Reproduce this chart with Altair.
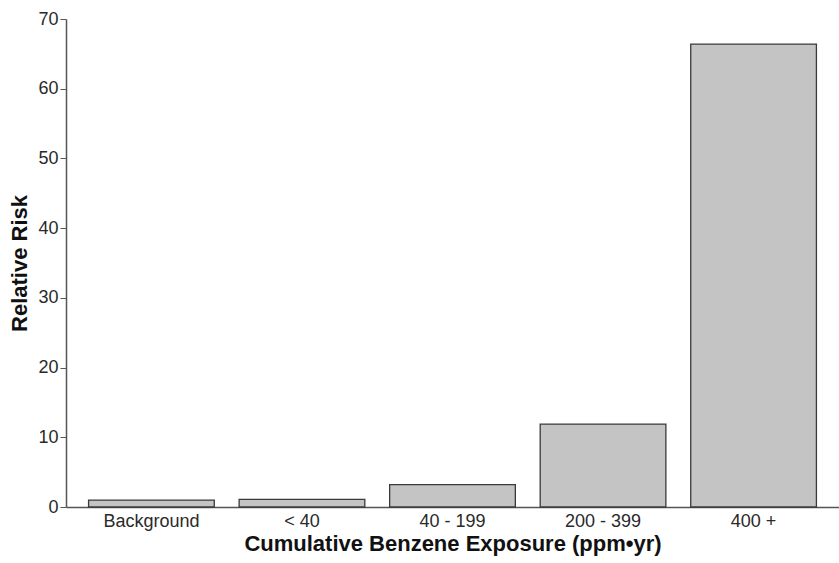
import altair as alt
import pandas as pd

categories = ["Background", "< 40", "40 - 199", "200 - 399", "400 +"]
relative_risk = [1.0, 1.1, 3.2, 11.9, 66.4]

df = pd.DataFrame({"exposure": categories, "rr": relative_risk})

chart = alt.Chart(df).mark_bar(
    color="#c4c4c4", stroke="#3a3a3a", strokeWidth=1.3
).encode(
    x=alt.X("exposure:N", sort=categories,
            title="Cumulative Benzene Exposure (ppm\u2022yr)",
            scale=alt.Scale(paddingInner=0.165, paddingOuter=0.15),
            axis=alt.Axis(labelAngle=0, ticks=False, labelPadding=5,
                          titlePadding=3)),
    y=alt.Y("rr:Q", title="Relative Risk",
            scale=alt.Scale(domain=[0, 70], nice=False),
            axis=alt.Axis(values=[0, 10, 20, 30, 40, 50, 60, 70], grid=False,
                          tickSize=6, labelPadding=2, titlePadding=6)),
).properties(
    width=773, height=488,
    padding={"left": 66, "top": 19, "right": 0, "bottom": 56},
    autosize=alt.AutoSizeParams(type="none"),
).configure_axis(
    domainColor="#555555", tickColor="#555555", domainWidth=1.5,
    labelFont="Liberation Sans", labelFontSize=18, labelColor="#2a2a2a",
    titleFont="Liberation Sans", titleFontSize=22, titleFontWeight="bold",
    titleColor="#111111",
).configure_view(stroke=None)

chart.save("out.html", embed_options={"renderer": "svg", "actions": False})
